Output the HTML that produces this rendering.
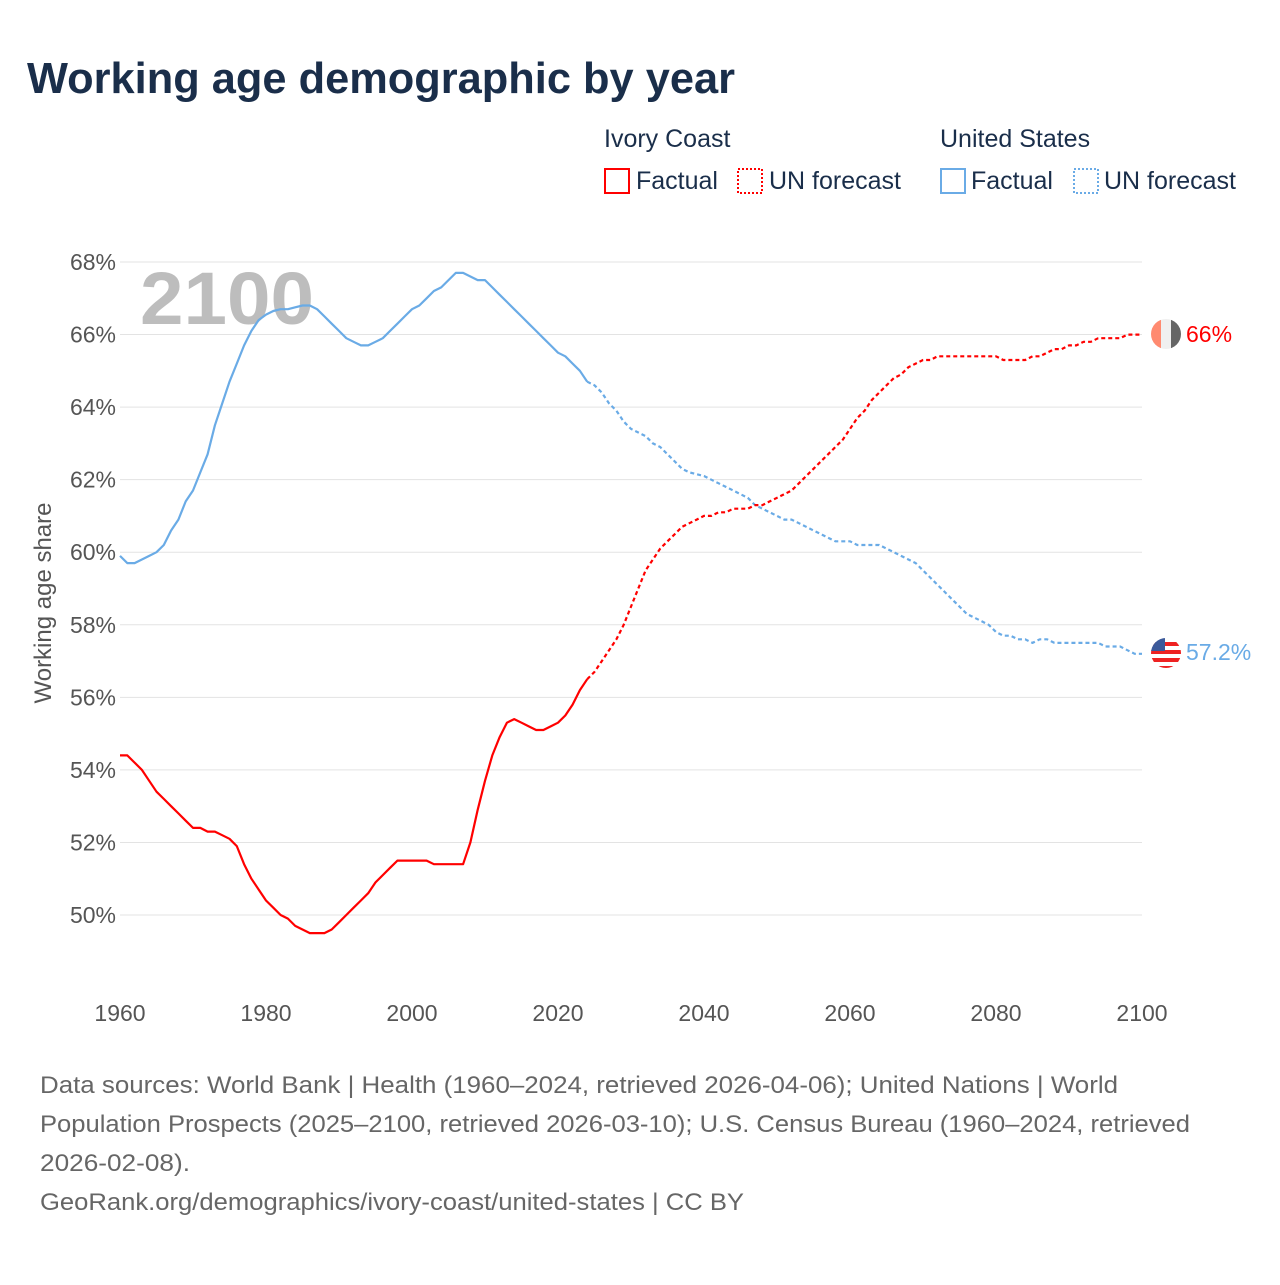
<!DOCTYPE html>
<html><head><meta charset="utf-8"><style>
body{margin:0;background:#fff;width:1280px;height:1280px;overflow:hidden;font-family:"Liberation Sans",sans-serif}
</style></head><body>
<svg id="chart" width="1280" height="1280" xmlns="http://www.w3.org/2000/svg" font-family="Liberation Sans, sans-serif">
<text x="27" y="93" font-size="44" font-weight="bold" fill="#1a2e4a" textLength="708" lengthAdjust="spacingAndGlyphs">Working age demographic by year</text>
<g font-size="25" fill="#1a2e4a">
<text x="604" y="147">Ivory Coast</text>
<text x="940" y="147">United States</text>
<g><rect x="605" y="169" width="24" height="24" fill="none" stroke="#f00" stroke-width="2"/><text x="636" y="189">Factual</text></g>
<g><rect x="738" y="169" width="24" height="24" fill="none" stroke="#f00" stroke-width="2" stroke-dasharray="2,2"/><text x="769" y="189">UN forecast</text></g>
<g><rect x="941" y="169" width="24" height="24" fill="none" stroke="#6aabe6" stroke-width="2"/><text x="971" y="189">Factual</text></g>
<g><rect x="1074" y="169" width="24" height="24" fill="none" stroke="#6aabe6" stroke-width="2" stroke-dasharray="2,2"/><text x="1104" y="189">UN forecast</text></g>
</g>
<text x="140" y="324" font-size="74" font-weight="bold" fill="#bdbdbd" textLength="174" lengthAdjust="spacingAndGlyphs">2100</text>
<text transform="translate(51,603) rotate(-90)" text-anchor="middle" font-size="24" fill="#555">Working age share</text>
<g id="grid"></g><g id="yticks"></g><g id="xticks"></g><g id="lines"></g>
<g>
<clipPath id="c1"><circle cx="1166" cy="334" r="15"/></clipPath>
<g clip-path="url(#c1)"><rect x="1151" y="319" width="10" height="30" fill="#ff8a70"/><rect x="1161" y="319" width="10" height="30" fill="#f0f0f0"/><rect x="1171" y="319" width="10" height="30" fill="#666"/></g>
<text x="1186" y="342" font-size="23" fill="#f00">66%</text></g>
<g>
<clipPath id="c2"><circle cx="1166" cy="653" r="15"/></clipPath>
<g clip-path="url(#c2)"><rect x="1151" y="638" width="30" height="30" fill="#fff"/><rect x="1151" y="642" width="30" height="4" fill="#e22"/><rect x="1151" y="650" width="30" height="4" fill="#e22"/><rect x="1151" y="658" width="30" height="4" fill="#e22"/><rect x="1151" y="666" width="30" height="4" fill="#e22"/><rect x="1151" y="638" width="14" height="13" fill="#3c5a9a"/></g>
<text x="1186" y="660" font-size="23" fill="#6aabe6">57.2%</text></g>
<g font-size="24" fill="#666">
<text x="40" y="1093" textLength="1078" lengthAdjust="spacingAndGlyphs">Data sources: World Bank | Health (1960–2024, retrieved 2026-04-06); United Nations | World</text>
<text x="40" y="1132" textLength="1150" lengthAdjust="spacingAndGlyphs">Population Prospects (2025–2100, retrieved 2026-03-10); U.S. Census Bureau (1960–2024, retrieved</text>
<text x="40" y="1171" textLength="150" lengthAdjust="spacingAndGlyphs">2026-02-08).</text>
<text x="40" y="1210" textLength="704" lengthAdjust="spacingAndGlyphs">GeoRank.org/demographics/ivory-coast/united-states | CC BY</text>
</g>
</svg>
<script>
const yTickValues=[50,52,54,56,58,60,62,64,66,68];
const xTickValues=[1960,1980,2000,2020,2040,2060,2080,2100];
const factualYears=[1960,1961,1962,1963,1964,1965,1966,1967,1968,1969,1970,1971,1972,1973,1974,1975,1976,1977,1978,1979,1980,1981,1982,1983,1984,1985,1986,1987,1988,1989,1990,1991,1992,1993,1994,1995,1996,1997,1998,1999,2000,2001,2002,2003,2004,2005,2006,2007,2008,2009,2010,2011,2012,2013,2014,2015,2016,2017,2018,2019,2020,2021,2022,2023,2024];
const usFactual=[59.9,59.7,59.7,59.8,59.9,60.0,60.2,60.6,60.9,61.4,61.7,62.2,62.7,63.5,64.1,64.7,65.2,65.7,66.1,66.4,66.55,66.65,66.7,66.7,66.75,66.8,66.8,66.7,66.5,66.3,66.1,65.9,65.8,65.7,65.7,65.8,65.9,66.1,66.3,66.5,66.7,66.8,67.0,67.2,67.3,67.5,67.7,67.7,67.6,67.5,67.5,67.3,67.1,66.9,66.7,66.5,66.3,66.1,65.9,65.7,65.5,65.4,65.2,65.0,64.7];
const icFactual=[54.4,54.4,54.2,54.0,53.7,53.4,53.2,53.0,52.8,52.6,52.4,52.4,52.3,52.3,52.2,52.1,51.9,51.4,51.0,50.7,50.4,50.2,50.0,49.9,49.7,49.6,49.5,49.5,49.5,49.6,49.8,50.0,50.2,50.4,50.6,50.9,51.1,51.3,51.5,51.5,51.5,51.5,51.5,51.4,51.4,51.4,51.4,51.4,52.0,52.9,53.7,54.4,54.9,55.3,55.4,55.3,55.2,55.1,55.1,55.2,55.3,55.5,55.8,56.2,56.5];
const forecastYears=[];for(let y=2024;y<=2100;y++)forecastYears.push(y);
const usForecast=[64.7,64.6,64.4,64.1,63.9,63.6,63.4,63.3,63.2,63.0,62.9,62.7,62.5,62.3,62.2,62.15,62.1,62.0,61.9,61.8,61.7,61.6,61.5,61.3,61.2,61.1,61.0,60.9,60.9,60.8,60.7,60.6,60.5,60.4,60.3,60.3,60.3,60.2,60.2,60.2,60.2,60.1,60.0,59.9,59.8,59.7,59.5,59.3,59.1,58.9,58.7,58.5,58.3,58.2,58.1,58.0,57.8,57.7,57.7,57.6,57.6,57.5,57.6,57.6,57.5,57.5,57.5,57.5,57.5,57.5,57.5,57.4,57.4,57.4,57.3,57.2,57.2];
const icForecast=[56.5,56.7,57.0,57.3,57.6,58.0,58.5,59.0,59.5,59.8,60.1,60.3,60.5,60.7,60.8,60.9,61.0,61.0,61.1,61.1,61.2,61.2,61.2,61.3,61.3,61.4,61.5,61.6,61.7,61.9,62.1,62.3,62.5,62.7,62.9,63.1,63.4,63.7,63.9,64.2,64.4,64.6,64.8,64.9,65.1,65.2,65.3,65.3,65.4,65.4,65.4,65.4,65.4,65.4,65.4,65.4,65.4,65.3,65.3,65.3,65.3,65.4,65.4,65.5,65.6,65.6,65.7,65.7,65.8,65.8,65.9,65.9,65.9,65.9,66.0,66.0,66.0];
const NS='http://www.w3.org/2000/svg';
const xS=y=>120+(y-1960)*(1142-120)/140;
const yS=v=>915-(v-50)*(915-262)/18;
function mk(tag,attrs,parent){const e=document.createElementNS(NS,tag);for(const k in attrs)e.setAttribute(k,attrs[k]);parent.appendChild(e);return e;}
const grid=document.getElementById('grid'),yt=document.getElementById('yticks'),xt=document.getElementById('xticks'),ln=document.getElementById('lines');
yTickValues.forEach(v=>{
 const l=mk('line',{x1:120,x2:1142,y1:yS(v),y2:yS(v),stroke:'#e3e3e3','stroke-width':1},grid);
 
 
 const t=mk('text',{x:116,y:yS(v)+8,'text-anchor':'end','font-size':23,fill:'#555'},yt);
 t.textContent=v+'%';
 
 
});
xTickValues.forEach(v=>{
 const t=mk('text',{x:xS(v),y:1021,'text-anchor':'middle','font-size':23,fill:'#555'},xt);
 t.textContent=v;
 
 
});
function line(xs,vs,color,dash,name){
 const d=xs.map((x,i)=>(i?'L':'M')+xS(x).toFixed(1)+','+yS(vs[i]).toFixed(1)).join('');
 const p=mk('path',{d:d,fill:'none',stroke:color,'stroke-width':2.2,'stroke-linejoin':'round'},ln);
 if(dash)p.setAttribute('stroke-dasharray',dash);
 
 
}
line(factualYears,usFactual,'#6aabe6',null,'us-factual-line');
line(forecastYears,usForecast,'#6aabe6','4,3','us-forecast-line');
line(factualYears,icFactual,'#f00',null,'ivory-coast-factual-line');
line(forecastYears,icForecast,'#f00','4,3','ivory-coast-forecast-line');
</script>
</body></html>
